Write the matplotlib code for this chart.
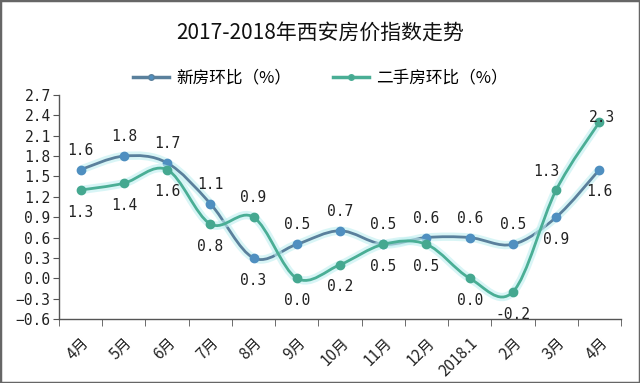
import numpy as np
import matplotlib
matplotlib.use("Agg")
import matplotlib.pyplot as plt
from matplotlib.path import Path
from matplotlib.patches import PathPatch, Rectangle
from matplotlib.lines import Line2D

plt.rcParams['font.family'] = ['Noto Sans CJK SC', 'DejaVu Sans']

title = "2017-2018年西安房价指数走势"
categories = ["4月", "5月", "6月", "7月", "8月", "9月", "10月", "11月", "12月", "2018.1", "2月", "3月", "4月"]
new_house = [1.6, 1.8, 1.7, 1.1, 0.3, 0.5, 0.7, 0.5, 0.6, 0.6, 0.5, 0.9, 1.6]
second_hand = [1.3, 1.4, 1.6, 0.8, 0.9, 0.0, 0.2, 0.5, 0.5, 0.0, -0.2, 1.3, 2.3]
series_names = ["新房环比（%）", "二手房环比（%）"]
yticks = [-0.6, -0.3, 0.0, 0.3, 0.6, 0.9, 1.2, 1.5, 1.8, 2.1, 2.4, 2.7]

c_new = "#5a809c"
c_new_m = "#4f8fc0"
c_sec = "#4aae95"
c_sec_m = "#45a890"
glow = "#bfeff0"

fig = plt.figure(figsize=(6.4, 3.83), dpi=100)
fig.patch.set_facecolor("white")
ax = fig.add_axes([59/640, 1-319/383, (621-59)/640, (319-95)/383])

def smooth_path(xs, ys):
    pts = np.column_stack([xs, ys]).astype(float)
    n = len(pts)
    verts = [pts[0]]
    codes = [Path.MOVETO]
    for i in range(n - 1):
        p0 = pts[i - 1] if i > 0 else pts[i]
        p1 = pts[i]
        p2 = pts[i + 1]
        p3 = pts[i + 2] if i + 2 < n else pts[i + 1]
        c1 = p1 + (p2 - p0) / 6.0
        c2 = p2 - (p3 - p1) / 6.0
        verts += [c1, c2, p2]
        codes += [Path.CURVE4] * 3
    return Path(verts, codes)

x = np.arange(len(categories))
for vals, col, mcol, z in [(new_house, c_new, c_new_m, 3), (second_hand, c_sec, c_sec_m, 4)]:
    p = smooth_path(x, vals)
    ax.add_patch(PathPatch(p, facecolor="none", edgecolor=glow, lw=6, alpha=0.6, zorder=z - 0.5))
    ax.add_patch(PathPatch(p, facecolor="none", edgecolor=col, lw=2.0, zorder=z))
    ax.plot(x, vals, linestyle="none", marker="o", ms=6, color=mcol,
            markeredgecolor=mcol, zorder=z + 0.2)

numfont = dict(family=["DejaVu Sans Mono"], fontsize=10.5, color="#222222")

# data labels: above / below offsets in points
off_new = ["a", "a", "a", "a", "b", "a", "a", "a", "a", "a", "a", "b", "b"]
off_sec = ["b", "b", "b", "b", "a", "b", "b", "b", "b", "b", "b", "s1", "s2"]
offsets = {"a": (0, 14), "b": (0, -16), "s1": (-7, 13), "s2": (2, 3)}
for vals, offs in [(new_house, off_new), (second_hand, off_sec)]:
    for i, (v, o) in enumerate(zip(vals, offs)):
        dx, dy = offsets[o]
        ax.annotate(f"{v:.1f}", (i, v), xytext=(dx, dy), textcoords="offset points",
                    ha="center", va="center", zorder=6, **numfont)

ax.set_xlim(-0.5, len(categories) - 0.5)
ax.set_ylim(-0.6, 2.7)
ax.set_yticks(yticks)
ax.set_yticklabels([f"{v:.1f}".replace("-", "−") for v in yticks], **numfont)
ax.set_xticks(x)
ax.set_xticklabels(categories, rotation=45, ha="right", va="top", fontsize=11,
                   color="#222222", rotation_mode="anchor")
ax.tick_params(axis="x", which="major", length=0, pad=11)
ax.set_xticks(np.arange(-0.5, len(categories), 1.0), minor=True)
ax.tick_params(axis="x", which="minor", length=5, color="#555555", direction="out")
ax.tick_params(axis="y", length=4, color="#555555", direction="out", pad=2)
for s in ["top", "right"]:
    ax.spines[s].set_visible(False)
for s in ["left", "bottom"]:
    ax.spines[s].set_color("#555555")
    ax.spines[s].set_linewidth(1.0)
ax.set_facecolor("none")

fig.text(0.5, 1 - 33/383, title, ha="center", va="center", fontsize=15, color="#111111")

handles = [Line2D([0], [0], color=c_new, lw=2.5, marker="o", ms=4, markerfacecolor=c_new_m),
           Line2D([0], [0], color=c_sec, lw=2.5, marker="o", ms=4, markerfacecolor=c_sec_m)]
fig.legend(handles, series_names, loc="center", bbox_to_anchor=(0.5, 1 - 78/383), ncol=2,
           frameon=False, fontsize=12, handlelength=2.2, columnspacing=2.5, handletextpad=0.4)

fig.patches.append(Rectangle((0, 0), 1, 1, transform=fig.transFigure, fill=False,
                             edgecolor="#666666", lw=2.5))

fig.savefig("out.png", dpi=100)
